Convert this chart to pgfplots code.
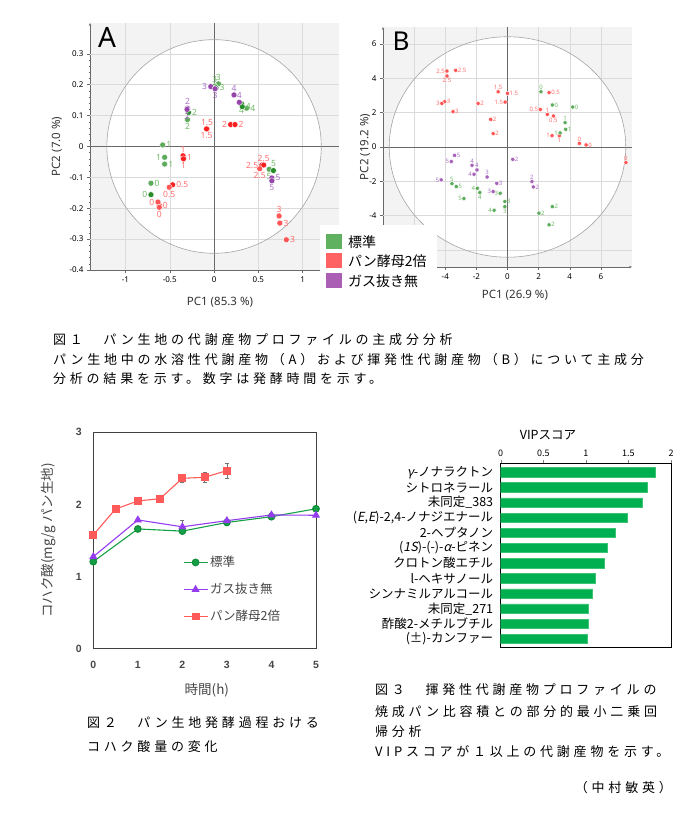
\documentclass[border=0pt]{standalone}
\usepackage{fontspec}
\usepackage{pgfplots}
\pgfplotsset{compat=1.18}
\usetikzlibrary{arrows.meta}
\setmainfont{Noto Sans CJK JP}
\newfontfamily\jp{Noto Sans CJK JP}
\newfontfamily\jpsl[FakeSlant=0.2]{Noto Sans CJK JP}
\newfontfamily\capfont[LetterSpace=29]{Noto Sans CJK JP}
\newfontfamily\seg{Noto Sans}
\newfontfamily\ari{Liberation Sans}

\definecolor{bgA}{RGB}{243,243,243}
\definecolor{gridc}{RGB}{218,218,218}
\definecolor{axc}{RGB}{105,105,105}
\definecolor{circc}{RGB}{165,165,165}
\definecolor{gD}{RGB}{40,140,40}
\definecolor{gL}{RGB}{92,172,92}
\definecolor{gT}{RGB}{115,185,105}
\definecolor{rD}{RGB}{250,30,30}
\definecolor{rL}{RGB}{255,85,85}
\definecolor{rT}{RGB}{255,110,110}
\definecolor{pD}{RGB}{150,70,170}
\definecolor{pT}{RGB}{170,115,200}
\definecolor{legG}{RGB}{95,177,95}
\definecolor{legR}{RGB}{255,98,98}
\definecolor{legP}{RGB}{170,95,180}
\definecolor{f2g}{RGB}{20,160,70}
\definecolor{f2gm}{RGB}{15,140,55}
\definecolor{f2p}{RGB}{150,60,240}
\definecolor{f2r}{RGB}{255,90,90}
\definecolor{f2txt}{RGB}{70,70,70}
\definecolor{barg}{RGB}{0,176,80}
\definecolor{barL}{RGB}{60,195,115}

\pgfplotsset{
  pca/.style={only marks, mark=*, mark options={draw=white, line width=0.4pt},
    nodes near coords, point meta=explicit symbolic,
    visualization depends on={value \thisrow{a}\as\anc},
    every node near coord/.append style={anchor=\anc}},
  pcaA/.style={pca, mark size=3pt,
    every node near coord/.append style={font=\seg\fontsize{8.5}{9}\selectfont, inner sep=3.5pt}},
  pcaB/.style={pca, mark size=2.1pt,
    every node near coord/.append style={font=\seg\fontsize{6}{6}\selectfont, inner sep=2pt}},
}

\begin{document}
\begin{tikzpicture}
\path[use as bounding box] (0pt,0pt) rectangle (698pt,818pt);

% ---------------- A
\begin{axis}[
  at={(90pt,548pt)}, anchor=south west, scale only axis,
  width=249pt, height=247pt,
  axis background/.style={fill=bgA},
  xmin=-1.4, xmax=1.41, ymin=-0.4, ymax=0.4,
  axis lines*=left,
  axis line style={draw=axc, line width=0.6pt, -},
  y axis line style={-{Stealth[length=3pt,width=2.4pt]}},
  xtick={-1,-0.5,0,0.5,1}, ytick={-0.4,-0.3,-0.2,-0.1,0,0.1,0.2,0.3},
  minor y tick num=4,
  tick align=outside, major tick length=3pt, minor tick length=1.5pt,
  tick style={axc, line width=0.5pt},
  /pgf/number format/assume math mode=true,
  tick label style={font=\seg\fontsize{8}{9}\selectfont},
  xlabel={PC1 (85.3 \%)}, ylabel={PC2 (7.0 \%)},
  every axis x label/.style={at={(axis description cs:0.522,-0.13)}, anchor=center},
  every axis y label/.style={at={(axis description cs:-0.133,0.5)}, rotate=90, anchor=center},
  label style={font=\seg\fontsize{11.5}{12}\selectfont, text=black!80},
  clip=false,
]
\fill[white] (axis cs:0,0) ellipse [x radius=1.21, y radius=0.346];
\pgfplotsinvokeforeach{-1,-0.5,0.5,1}{\draw[gridc, line width=0.5pt] (axis cs:#1,-0.4) -- (axis cs:#1,0.4);}
\pgfplotsinvokeforeach{-0.3,-0.2,-0.1,0.1,0.2,0.3}{\draw[gridc, line width=0.5pt] (axis cs:-1.4,#1) -- (axis cs:1.41,#1);}
\draw[axc, line width=0.7pt] (axis cs:0,-0.4) -- (axis cs:0,0.4);
\draw[axc, line width=0.7pt] (axis cs:-1.4,0) -- (axis cs:1.41,0);
\draw[circc, line width=0.6pt] (axis cs:0,0) ellipse [x radius=1.21, y radius=0.346];

\addplot[pcaA, fill=gL, every node near coord/.append style={text=gT}] table[meta=l, row sep=\\] {
x y l a \\
0.049 0.203 3 south \\
0.005 0.196 3 south \\
-0.300 0.087 2 north \\
0.367 0.124 4 west \\
-0.580 0.005 1 west \\
-0.558 -0.035 1 east \\
-0.558 -0.057 1 west \\
-0.712 -0.119 0 west \\
0.622 -0.074 5 north \\
};
\addplot[pcaA, fill=gD, every node near coord/.append style={text=gT}] table[meta=l, row sep=\\] {
x y l a \\
0.022 0.190 3 west \\
-0.288 0.110 2 west \\
0.310 0.138 4 north \\
0.318 0.129 4 west \\
-0.712 -0.156 0 east \\
0.670 -0.078 5 south \\
};
\addplot[pcaA, fill=rD, every node near coord/.append style={text=rT}] table[meta=l, row sep=\\] {
x y l a \\
-0.079 0.057 1.5 south \\
-0.085 0.057 1.5 north \\
0.187 0.071 2 east \\
0.236 0.071 2 west \\
-0.345 -0.035 1 west \\
-0.350 -0.030 1 south \\
-0.345 -0.040 1 north \\
-0.468 -0.124 0.5 west \\
-0.618 -0.191 0 west \\
0.539 -0.060 2.5 east \\
0.560 -0.060 2.5 south \\
};
\addplot[pcaA, fill=rL, every node near coord/.append style={text=rT}] table[meta=l, row sep=\\] {
x y l a \\
-0.506 -0.132 0.5 north \\
-0.633 -0.180 0 east \\
-0.618 -0.197 0 north \\
0.515 -0.072 2.5 north \\
0.734 -0.225 3 south \\
0.742 -0.248 3 west \\
0.816 -0.302 3 west \\
};
\addplot[pcaA, fill=pD, every node near coord/.append style={text=pT}] table[meta=l, row sep=\\] {
x y l a \\
-0.037 0.194 3 east \\
0.011 0.187 3 north \\
0.225 0.167 4 south \\
0.285 0.143 4 south \\
-0.300 0.124 2 south \\
-0.305 0.120 2 north \\
0.652 -0.102 5 west \\
0.652 -0.111 5 north \\
};
\end{axis}
\node[font=\seg\fontsize{28}{28}\selectfont, anchor=center] at (107pt,781pt) {A};

% ---------------- B
\begin{axis}[
  at={(383pt,551pt)}, anchor=south west, scale only axis,
  width=249pt, height=240pt,
  axis background/.style={fill=bgA},
  xmin=-8, xmax=8, ymin=-7, ymax=7,
  axis lines*=left,
  axis line style={draw=axc, line width=0.6pt, -{Stealth[length=3pt,width=2.4pt]}},
  xtick={-4,-2,0,2,4,6}, ytick={-4,-2,0,2,4,6},
  tick align=outside, major tick length=3pt,
  tick style={axc, line width=0.5pt},
  /pgf/number format/assume math mode=true,
  tick label style={font=\seg\fontsize{8}{9}\selectfont},
  xlabel={PC1 (26.9 \%)}, ylabel={PC2 (19.2 \%)},
  every axis x label/.style={at={(axis description cs:0.53,-0.117)}, anchor=center},
  every axis y label/.style={at={(axis description cs:-0.072,0.5)}, rotate=90, anchor=center},
  label style={font=\seg\fontsize{11.5}{12}\selectfont, text=black!80},
  clip=false,
]
\fill[white] (axis cs:0,0) ellipse [x radius=7.6, y radius=6.43];
\pgfplotsinvokeforeach{-6,-4,-2,2,4,6}{\draw[gridc, line width=0.5pt] (axis cs:#1,-7) -- (axis cs:#1,7);}
\pgfplotsinvokeforeach{-6,-4,-2,2,4,6}{\draw[gridc, line width=0.5pt] (axis cs:-8,#1) -- (axis cs:8,#1);}
\draw[axc, line width=0.7pt] (axis cs:0,-7) -- (axis cs:0,7);
\draw[axc, line width=0.7pt] (axis cs:-8,0) -- (axis cs:8,0);
\draw[circc, line width=0.6pt] (axis cs:0,0) ellipse [x radius=7.6, y radius=6.43];

\addplot[pcaB, fill=rL, every node near coord/.append style={text=rT}] table[meta=l, row sep=\\] {
x y l a \\
-3.89 4.43 2.5 east \\
-3.33 4.47 2.5 west \\
-3.89 4.14 2.5 north \\
-4.04 2.64 3 west \\
-4.22 2.54 3 east \\
-3.50 2.06 3 west \\
-1.89 2.54 2 west \\
-0.60 3.22 1.5 south \\
0.00 3.13 1.5 west \\
-0.15 2.62 1.5 east \\
-1.08 1.61 2 west \\
-0.92 0.78 2 west \\
2.67 3.17 0.5 west \\
2.11 2.19 0.5 east \\
2.56 1.90 1 south \\
2.95 1.81 0.5 north \\
2.86 0.66 1 east \\
3.33 0.66 1 north \\
4.62 0.21 0 south \\
5.05 0.12 0 west \\
7.61 -0.91 0 south \\
};
\addplot[pcaB, fill=gL, every node near coord/.append style={text=gT}] table[meta=l, row sep=\\] {
x y l a \\
2.15 3.22 0 south \\
2.88 2.45 0 west \\
4.19 2.33 0 west \\
3.70 1.42 1 south \\
3.74 1.03 1 west \\
3.38 0.82 1 east \\
-3.57 -2.14 5 south \\
-3.29 -2.31 5 west \\
-2.80 -3.01 5 east \\
-1.94 -2.41 4 east \\
-1.78 -2.66 4 north \\
-0.86 -3.69 4 east \\
-0.47 -2.70 3 east \\
-0.17 -3.18 3 west \\
-0.17 -3.48 3 north \\
2.88 -3.48 2 west \\
2.02 -3.86 2 west \\
2.67 -4.54 2 west \\
};
\addplot[pcaB, fill=pD!85!white, every node near coord/.append style={text=pT}] table[meta=l, row sep=\\] {
x y l a \\
-3.40 -0.49 5 west \\
-3.61 -0.85 5 east \\
-4.26 -1.92 5 east \\
-2.28 -1.07 4 south \\
-1.96 -1.34 4 south \\
-2.15 -1.59 4 east \\
-1.31 -1.75 3 south \\
-0.69 -2.12 3 west \\
-0.92 -2.60 3 east \\
0.34 -0.72 2 west \\
1.57 -2.02 2 south \\
1.66 -2.33 2 west \\
};
\end{axis}
\node[font=\seg\fontsize{26}{26}\selectfont, anchor=center] at (401pt,777pt) {B};

% shared legend of A and B
\fill[white] (320pt,526pt) rectangle (437pt,593pt);
\fill[legG] (326pt,569pt) rectangle (342pt,584pt);
\fill[legR] (326pt,550pt) rectangle (342pt,565pt);
\fill[legP] (326pt,530pt) rectangle (342pt,545pt);
\node[anchor=west, inner sep=0pt, font=\jp\fontsize{14}{14}\selectfont] at (348pt,576pt) {標準};
\node[anchor=west, inner sep=0pt, font=\jp\fontsize{14}{14}\selectfont] at (348pt,557pt) {パン酵母2倍};
\node[anchor=west, inner sep=0pt, font=\jp\fontsize{14}{14}\selectfont] at (348pt,537pt) {ガス抜き無};

% figure 1 caption
\node[anchor=west, inner sep=0pt, font=\capfont\fontsize{13}{14}\selectfont] at (53pt,478pt) {図１　パン生地の代謝産物プロファイルの主成分分析};
\node[anchor=west, inner sep=0pt, font=\capfont\fontsize{13}{14}\selectfont] at (53pt,458pt) {パン生地中の水溶性代謝産物（A）および揮発性代謝産物（B）について主成分};
\node[anchor=west, inner sep=0pt, font=\capfont\fontsize{13}{14}\selectfont] at (53pt,439pt) {分析の結果を示す。数字は発酵時間を示す。};

% ---------------- figure 2
\begin{axis}[
  at={(93.3pt,169.3pt)}, anchor=south west, scale only axis,
  width=222.7pt, height=216.4pt,
  xmin=0, xmax=5, ymin=0, ymax=3,
  xtick={0,1,2,3,4,5}, ytick={0,1,2,3},
  major tick length=0pt,
  axis line style={draw=black!75, line width=0.8pt},
  /pgf/number format/assume math mode=true,
  tick label style={font=\ari\bfseries\fontsize{10.5}{11}\selectfont, text=f2txt},
  xticklabel style={yshift=-9pt}, yticklabel style={xshift=-8pt},
  xlabel={時間(h)}, ylabel={コハク酸(mg/g パン生地)},
  every axis x label/.style={at={(axis description cs:0.51,-0.19)}, anchor=center},
  every axis y label/.style={at={(axis description cs:-0.203,0.5)}, rotate=90, anchor=center},
  label style={font=\jp\fontsize{13.5}{14}\selectfont, text=f2txt},
  legend style={at={(axis cs:2.01,1.31)}, anchor=north west, draw=none, fill=none,
    inner sep=0pt, row sep=11pt, font=\jp\fontsize{12.5}{14}\selectfont, text=f2txt},
  legend cell align=left,
  legend image code/.code={\draw[mark repeat=2,mark phase=2] plot coordinates {(0pt,0pt) (12pt,0pt) (24pt,0pt)};},
  error bars/error bar style={black!55, line width=0.6pt},
  error bars/error mark options={rotate=90, mark size=2pt, black!55, line width=0.6pt},
]
\addplot[f2g, line width=1.1pt, mark=*, mark size=3.3pt, mark options={fill=f2g, draw=f2gm},
  error bars/.cd, y dir=both, y explicit] table[x=x, y=y, y error=e, row sep=\\] {
x y e \\
0 1.207 0.02 \\
1 1.660 0.02 \\
2 1.630 0.03 \\
3 1.750 0.02 \\
4 1.830 0.03 \\
5 1.940 0.03 \\
};
\addlegendentry{標準}
\addplot[f2p, line width=1.1pt, mark=triangle*, mark size=3.6pt, mark options={fill=f2p},
  error bars/.cd, y dir=both, y explicit] table[x=x, y=y, y error=e, row sep=\\] {
x y e \\
0 1.276 0.02 \\
1 1.785 0.02 \\
2 1.690 0.09 \\
3 1.775 0.02 \\
4 1.854 0.02 \\
5 1.850 0.02 \\
};
\addlegendentry{ガス抜き無}
\addplot[f2r, line width=1.1pt, mark=square*, mark size=3.4pt, mark options={fill=f2r},
  error bars/.cd, y dir=both, y explicit] table[x=x, y=y, y error=e, row sep=\\] {
x y e \\
0 1.577 0.02 \\
0.5 1.937 0.02 \\
1 2.048 0.03 \\
1.5 2.080 0.02 \\
2 2.362 0.06 \\
2.5 2.376 0.07 \\
3 2.469 0.10 \\
};
\addlegendentry{パン酵母2倍}
\end{axis}

\node[anchor=west, inner sep=0pt, font=\capfont\fontsize{13}{14}\selectfont] at (87pt,95pt) {図２　パン生地発酵過程おける};
\node[anchor=west, inner sep=0pt, font=\capfont\fontsize{13}{14}\selectfont] at (87pt,71pt) {コハク酸量の変化};

% ---------------- figure 3
\begin{axis}[
  at={(500.7pt,170.7pt)}, anchor=south west, scale only axis,
  width=170.3pt, height=184pt,
  xbar, bar width=9.3pt,
  xmin=0, xmax=2, ymin=0.41, ymax=12.55, y dir=reverse,
  xtick={0,0.5,1,1.5,2}, xtick pos=right, xticklabel pos=right,
  tick align=outside, major tick length=3pt,
  ytick={1,...,12}, ytick style={draw=none},
  axis line style={draw=black, line width=0.7pt},
  /pgf/number format/assume math mode=true,
  xticklabel style={font=\jp\fontsize{9}{9}\selectfont},
  yticklabel style={font=\jp\fontsize{12.5}{13}\selectfont, xshift=-1pt},
  yticklabels={{{\jpsl γ}-ノナラクトン},シトロネラール,未同定\_383,{({\jpsl E},{\jpsl E})-2,4-ノナジエナール},2-ヘプタノン,{({\jpsl 1S})-(-)-{\jpsl α}-ピネン},クロトン酸エチル,l-ヘキサノール,シンナミルアルコール,未同定\_271,酢酸2-メチルブチル,(±)-カンファー},
]
\addplot[fill=barg, draw=barL, line width=0.5pt] coordinates {
(1.810,1) (1.726,2) (1.660,3) (1.483,4) (1.346,5) (1.256,6)
(1.217,7) (1.115,8) (1.076,9) (1.033,10) (1.025,11) (1.014,12)};
\end{axis}
\node[anchor=center, font=\jp\fontsize{12.5}{13}\selectfont] at (548pt,383pt) {VIPスコア};

\node[anchor=west, inner sep=0pt, font=\capfont\fontsize{13}{14}\selectfont] at (375pt,128pt) {図３　揮発性代謝産物プロファイルの};
\node[anchor=west, inner sep=0pt, font=\capfont\fontsize{13}{14}\selectfont] at (375pt,106pt) {焼成パン比容積との部分的最小二乗回};
\node[anchor=west, inner sep=0pt, font=\capfont\fontsize{13}{14}\selectfont] at (375pt,86pt) {帰分析};
\node[anchor=west, inner sep=0pt, font=\capfont\fontsize{13}{14}\selectfont] at (375pt,66pt) {VIPスコアが１以上の代謝産物を示す。};
\node[anchor=east, inner sep=0pt, font=\capfont\fontsize{13}{14}\selectfont] at (672pt,30pt) {（中村敏英）};
\end{tikzpicture}
\end{document}
